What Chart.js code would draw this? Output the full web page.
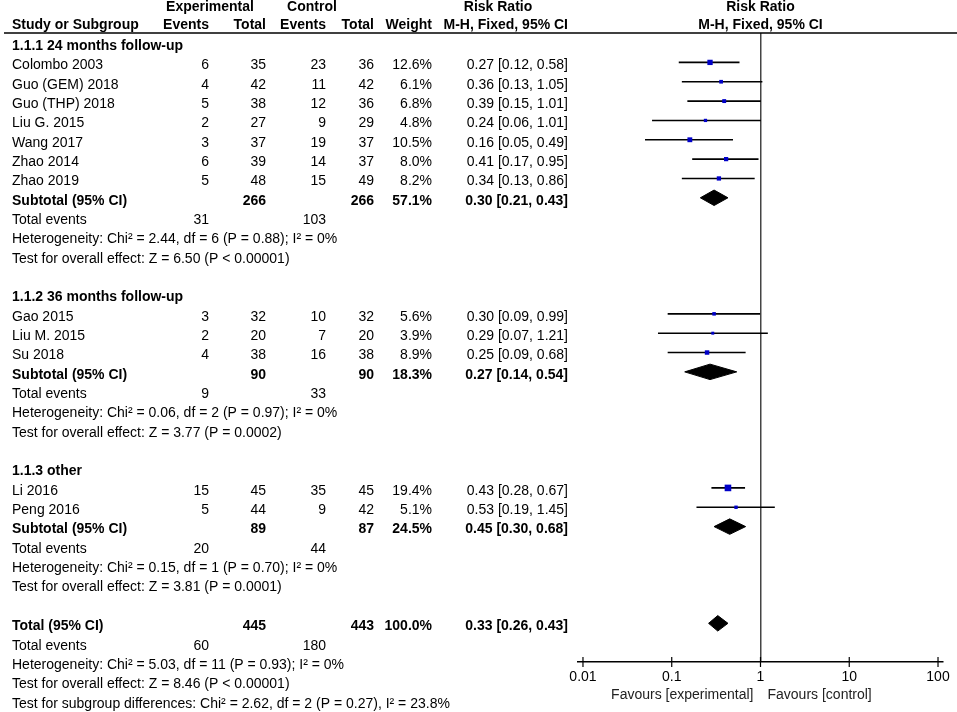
<!DOCTYPE html>
<html>
<head>
<meta charset="utf-8">
<title>Forest plot</title>
<script src="https://cdn.jsdelivr.net/npm/chart.js@4.4.1/dist/chart.umd.min.js"></script>
<style>
html, body { margin: 0; padding: 0; background: #fff; }
#wrap { width: 957px; height: 712px; position: relative; overflow: hidden; }
</style>
</head>
<body>
<div id="wrap"><canvas id="forest"></canvas></div>
<script>
// study level data
const studies = ['Colombo 2003', 'Guo (GEM) 2018', 'Guo (THP) 2018', 'Liu G. 2015', 'Wang 2017', 'Zhao 2014', 'Zhao 2019',
                 'Gao 2015', 'Liu M. 2015', 'Su 2018',
                 'Li 2016', 'Peng 2016'];
const studyGroup = [0, 0, 0, 0, 0, 0, 0, 1, 1, 1, 2, 2];
const expEvents = [6, 4, 5, 2, 3, 6, 5, 3, 2, 4, 15, 5];
const expTotal = [35, 42, 38, 27, 37, 39, 48, 32, 20, 38, 45, 44];
const ctlEvents = [23, 11, 12, 9, 19, 14, 15, 10, 7, 16, 35, 9];
const ctlTotal = [36, 42, 36, 29, 37, 37, 49, 32, 20, 38, 45, 42];
const weights = [12.6, 6.1, 6.8, 4.8, 10.5, 8.0, 8.2, 5.6, 3.9, 8.9, 19.4, 5.1];
const rr = [0.27, 0.36, 0.39, 0.24, 0.16, 0.41, 0.34, 0.30, 0.29, 0.25, 0.43, 0.53];
const rrLow = [0.12, 0.13, 0.15, 0.06, 0.05, 0.17, 0.13, 0.09, 0.07, 0.09, 0.28, 0.19];
const rrHigh = [0.58, 1.05, 1.01, 1.01, 0.49, 0.95, 0.86, 0.99, 1.21, 0.68, 0.67, 1.45];

// subgroups
const groupNames = ['1.1.1 24 months follow-up', '1.1.2 36 months follow-up', '1.1.3 other'];
const subExpTotal = [266, 90, 89];
const subCtlTotal = [266, 90, 87];
const subExpEvents = [31, 9, 20];
const subCtlEvents = [103, 33, 44];
const subWeight = [57.1, 18.3, 24.5];
const subRR = [0.30, 0.27, 0.45];
const subLow = [0.21, 0.14, 0.30];
const subHigh = [0.43, 0.54, 0.68];
const subHet = ['Chi² = 2.44, df = 6 (P = 0.88); I² = 0%', 'Chi² = 0.06, df = 2 (P = 0.97); I² = 0%', 'Chi² = 0.15, df = 1 (P = 0.70); I² = 0%'];
const subEffect = ['Z = 6.50 (P < 0.00001)', 'Z = 3.77 (P = 0.0002)', 'Z = 3.81 (P = 0.0001)'];

// overall
const totExpTotal = 445, totCtlTotal = 443;
const totExpEvents = 60, totCtlEvents = 180;
const totWeight = 100.0;
const totRR = 0.33, totLow = 0.26, totHigh = 0.43;
const totHet = 'Chi² = 5.03, df = 11 (P = 0.93); I² = 0%';
const totEffect = 'Z = 8.46 (P < 0.00001)';
const subgroupDiff = 'Chi² = 2.62, df = 2 (P = 0.27), I² = 23.8%';

// x axis
const tickValues = [0.01, 0.1, 1, 10, 100];
const tickLabels = ['0.01', '0.1', '1', '10', '100'];

const fmtCI = (e, l, h) => e.toFixed(2) + ' [' + l.toFixed(2) + ', ' + h.toFixed(2) + ']';

// row numbers for every line of the table
const rows = [];
const studyRow = [];
const subRow = [];
let k = 0;
groupNames.forEach((g, gi) => {
  rows.push({ k: k++, kind: 'group', g: gi });
  studyGroup.forEach((sg, si) => {
    if (sg === gi) { studyRow[si] = k; rows.push({ k: k++, kind: 'study', s: si }); }
  });
  subRow[gi] = k;
  rows.push({ k: k++, kind: 'subtotal', g: gi });
  rows.push({ k: k++, kind: 'events', g: gi });
  rows.push({ k: k++, kind: 'het', g: gi });
  rows.push({ k: k++, kind: 'effect', g: gi });
  k++;
});
const totalRow = k;

const COL = { name: 12, expEv: 209, expTot: 266, ctlEv: 326, ctlTot: 374, weight: 432, ci: 568 };
const FONT = '"Liberation Sans", Arial, sans-serif';
const TEXT_DROP = 3; // body text sits a little below the marks

const tablePlugin = {
  id: 'forestTable',
  afterDraw(chart) {
    const ctx = chart.ctx;
    const xs = chart.scales.x, ys = chart.scales.y;
    const area = chart.chartArea;
    const put = (txt, x, k, align, bold, drop) => {
      ctx.font = (bold ? 'bold ' : '') + '14px ' + FONT;
      ctx.textAlign = align || 'left';
      ctx.fillText(String(txt), x, ys.getPixelForValue(k) + (drop === undefined ? TEXT_DROP : drop));
    };
    ctx.save();
    ctx.fillStyle = '#000';
    ctx.textBaseline = 'middle';

    // header
    const x1 = xs.getPixelForValue(1);
    put('Experimental', 210, -1.85, 'center', true, 0);
    put('Control', 312, -1.85, 'center', true, 0);
    put('Risk Ratio', 498, -1.85, 'center', true, 0);
    put('Risk Ratio', x1, -1.85, 'center', true, 0);
    put('Study or Subgroup', COL.name, -0.92, 'left', true, 0);
    put('Events', COL.expEv, -0.92, 'right', true, 0);
    put('Total', COL.expTot, -0.92, 'right', true, 0);
    put('Events', COL.ctlEv, -0.92, 'right', true, 0);
    put('Total', COL.ctlTot, -0.92, 'right', true, 0);
    put('Weight', COL.weight, -0.92, 'right', true, 0);
    put('M-H, Fixed, 95% CI', COL.ci, -0.92, 'right', true, 0);
    put('M-H, Fixed, 95% CI', x1, -0.92, 'center', true, 0);

    ctx.strokeStyle = '#000';
    ctx.lineWidth = 1.5;
    ctx.beginPath();
    ctx.moveTo(4, area.top);
    ctx.lineTo(957, area.top);
    ctx.stroke();

    rows.forEach(r => {
      if (r.kind === 'group') put(groupNames[r.g], COL.name, r.k, 'left', true);
      if (r.kind === 'study') {
        const s = r.s;
        put(studies[s], COL.name, r.k);
        put(expEvents[s], COL.expEv, r.k, 'right');
        put(expTotal[s], COL.expTot, r.k, 'right');
        put(ctlEvents[s], COL.ctlEv, r.k, 'right');
        put(ctlTotal[s], COL.ctlTot, r.k, 'right');
        put(weights[s].toFixed(1) + '%', COL.weight, r.k, 'right');
        put(fmtCI(rr[s], rrLow[s], rrHigh[s]), COL.ci, r.k, 'right');
      }
      if (r.kind === 'subtotal') {
        const g = r.g;
        put('Subtotal (95% CI)', COL.name, r.k, 'left', true);
        put(subExpTotal[g], COL.expTot, r.k, 'right', true);
        put(subCtlTotal[g], COL.ctlTot, r.k, 'right', true);
        put(subWeight[g].toFixed(1) + '%', COL.weight, r.k, 'right', true);
        put(fmtCI(subRR[g], subLow[g], subHigh[g]), COL.ci, r.k, 'right', true);
      }
      if (r.kind === 'events') {
        put('Total events', COL.name, r.k);
        put(subExpEvents[r.g], COL.expEv, r.k, 'right');
        put(subCtlEvents[r.g], COL.ctlEv, r.k, 'right');
      }
      if (r.kind === 'het') put('Heterogeneity: ' + subHet[r.g], COL.name, r.k);
      if (r.kind === 'effect') put('Test for overall effect: ' + subEffect[r.g], COL.name, r.k);
    });

    // overall rows
    put('Total (95% CI)', COL.name, totalRow, 'left', true);
    put(totExpTotal, COL.expTot, totalRow, 'right', true);
    put(totCtlTotal, COL.ctlTot, totalRow, 'right', true);
    put(totWeight.toFixed(1) + '%', COL.weight, totalRow, 'right', true);
    put(fmtCI(totRR, totLow, totHigh), COL.ci, totalRow, 'right', true);
    put('Total events', COL.name, totalRow + 1);
    put(totExpEvents, COL.expEv, totalRow + 1, 'right');
    put(totCtlEvents, COL.ctlEv, totalRow + 1, 'right');
    put('Heterogeneity: ' + totHet, COL.name, totalRow + 2);
    put('Test for overall effect: ' + totEffect, COL.name, totalRow + 3);
    put('Test for subgroup differences: ' + subgroupDiff, COL.name, totalRow + 4);

    // tick marks crossing the axis line
    ctx.lineWidth = 1.2;
    tickValues.forEach(v => {
      const px = xs.getPixelForValue(v);
      ctx.beginPath();
      ctx.moveTo(px, area.bottom - 5);
      ctx.lineTo(px, area.bottom + 5);
      ctx.stroke();
    });

    // favours labels
    ctx.font = '14px ' + FONT;
    ctx.fillStyle = '#222';
    ctx.textAlign = 'right';
    ctx.fillText('Favours [experimental]', x1 - 7, area.bottom + 33);
    ctx.textAlign = 'left';
    ctx.fillText('Favours [control]', x1 + 7, area.bottom + 33);
    ctx.restore();
  }
};

// datasets
const squareSet = {
  label: 'Studies',
  order: 0,
  data: rr.map((v, i) => ({ x: v, y: studyRow[i] })),
  showLine: false,
  pointStyle: 'rect',
  pointRadius: weights.map(w => 1.5 * Math.sqrt(w) / Math.SQRT2),
  pointBackgroundColor: '#0000c8',
  pointBorderWidth: 0
};
const whiskerSets = studies.map((s, i) => ({
  label: s,
  order: 1,
  data: [{ x: rrLow[i], y: studyRow[i] }, { x: rrHigh[i], y: studyRow[i] }],
  showLine: true,
  borderColor: '#000',
  borderWidth: 1.6,
  pointRadius: 0
}));
const diamond = (lo, est, hi, row, label) => ({
  label: label,
  order: 0,
  data: [{ x: lo, y: row }, { x: est, y: row - 0.4 }, { x: hi, y: row }, { x: est, y: row + 0.4 }, { x: lo, y: row }],
  showLine: true,
  borderColor: '#000',
  borderWidth: 1,
  backgroundColor: '#000',
  fill: 'shape',
  pointRadius: 0,
  tension: 0
});
const diamondSets = groupNames.map((g, gi) => diamond(subLow[gi], subRR[gi], subHigh[gi], subRow[gi], g));
diamondSets.push(diamond(totLow, totRR, totHigh, totalRow, 'Total'));

new Chart(document.getElementById('forest'), {
  type: 'scatter',
  data: { datasets: [squareSet, ...whiskerSets, ...diamondSets] },
  options: {
    responsive: true,
    maintainAspectRatio: false,
    animation: false,
    events: [],
    layout: { padding: { left: 578, right: 14, top: 33, bottom: 0 } },
    plugins: { legend: { display: false }, tooltip: { enabled: false } },
    scales: {
      x: {
        type: 'logarithmic',
        min: 0.00879,
        max: 113.8,
        afterBuildTicks: scale => { scale.ticks = tickValues.map(v => ({ value: v })); },
        afterFit: scale => { scale.height = 50; },
        ticks: {
          autoSkip: false,
          maxRotation: 0,
          padding: 7,
          color: '#000',
          font: { family: FONT, size: 14 },
          callback: (v, i) => tickLabels[i]
        },
        grid: {
          drawTicks: false,
          lineWidth: 1.5,
          color: c => (c.tick && c.tick.value === 1 ? '#444' : 'rgba(0,0,0,0)')
        },
        border: { display: true, color: '#000', width: 1.5 }
      },
      y: {
        type: 'linear',
        display: false,
        reverse: true,
        min: -0.52,
        max: 32.0
      }
    }
  },
  plugins: [tablePlugin]
});
</script>
</body>
</html>
